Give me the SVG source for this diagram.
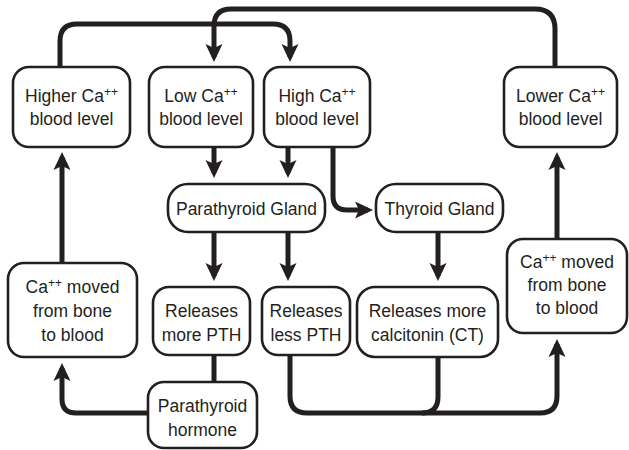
<svg xmlns="http://www.w3.org/2000/svg" width="629" height="450" viewBox="0 0 629 450">
<defs>
<style>
.box{fill:#fff;stroke:#231f20;stroke-width:2.6}
.c{fill:none;stroke:#231f20;stroke-width:5}
text{font-family:"Liberation Sans",Arial,sans-serif;font-size:17.5px;fill:#231f20;text-anchor:middle}
.sup{font-size:12px}
</style>
<marker id="ah" markerUnits="userSpaceOnUse" orient="auto" overflow="visible" markerWidth="1" markerHeight="1">
<path d="M5,0 L-13,-8.5 L-9,0 L-13,8.5 Z" fill="#231f20"/>
</marker>
</defs>
<rect width="629" height="450" fill="#fff"/>
<g id="connectors">
<path class="c" d="M60,67 V41 Q60,24 77,24 H273 Q290,24 290,41 V57" marker-end="url(#ah)"/>
<path class="c" d="M555,67 V29 Q555,9 535,9 H231 Q214,9 214,26 V57" marker-end="url(#ah)"/>
<path class="c" d="M214,147 V173" marker-end="url(#ah)"/>
<path class="c" d="M288,147 V173" marker-end="url(#ah)"/>
<path class="c" d="M333,147 V196 Q333,210 347,210 H368" marker-end="url(#ah)"/>
<path class="c" d="M214,232 V276" marker-end="url(#ah)"/>
<path class="c" d="M288,232 V276" marker-end="url(#ah)"/>
<path class="c" d="M438,232 V276" marker-end="url(#ah)"/>
<path class="c" d="M214,355 V382"/>
<path class="c" d="M148,413 H76 Q62,413 62,399 V368" marker-end="url(#ah)"/>
<path class="c" d="M62,263 V157" marker-end="url(#ah)"/>
<path class="c" d="M290,355 V396 Q290,413 307,413 H540 Q557,413 557,396 V344" marker-end="url(#ah)"/>
<path class="c" d="M438,357 V397 Q438,413 422,413"/>
<path class="c" d="M557,239 V157" marker-end="url(#ah)"/>
</g>
<g id="higher">
<rect class="box" x="13" y="67" width="117" height="80" rx="16"/>
<text x="71.5" y="102">Higher Ca<tspan class="sup" dy="-6">++</tspan></text>
<text x="71.5" y="125">blood level</text>
</g>
<g id="low">
<rect class="box" x="149" y="67" width="104" height="80" rx="16"/>
<text x="201" y="102">Low Ca<tspan class="sup" dy="-6">++</tspan></text>
<text x="201" y="125">blood level</text>
</g>
<g id="high">
<rect class="box" x="264" y="67" width="106" height="80" rx="16"/>
<text x="317" y="102">High Ca<tspan class="sup" dy="-6">++</tspan></text>
<text x="317" y="125">blood level</text>
</g>
<g id="lower">
<rect class="box" x="504" y="67" width="113" height="80" rx="16"/>
<text x="560.5" y="102">Lower Ca<tspan class="sup" dy="-6">++</tspan></text>
<text x="560.5" y="125">blood level</text>
</g>
<g id="parathyroid-gland">
<rect class="box" x="168" y="184" width="157" height="48" rx="20"/>
<text x="246.5" y="215">Parathyroid Gland</text>
</g>
<g id="thyroid-gland">
<rect class="box" x="376" y="184" width="127" height="48" rx="20"/>
<text x="439.5" y="215">Thyroid Gland</text>
</g>
<g id="ca-moved-left">
<rect class="box" x="8" y="263" width="129" height="94" rx="16"/>
<text x="72.5" y="293">Ca<tspan class="sup" dy="-6">++</tspan><tspan dy="6"> moved</tspan></text>
<text x="72.5" y="317">from bone</text>
<text x="72.5" y="341">to blood</text>
</g>
<g id="releases-more-pth">
<rect class="box" x="153" y="287" width="97" height="68" rx="16"/>
<text x="201.5" y="317">Releases</text>
<text x="201.5" y="341">more PTH</text>
</g>
<g id="releases-less-pth">
<rect class="box" x="262" y="287" width="88" height="68" rx="16"/>
<text x="306" y="317">Releases</text>
<text x="306" y="341">less PTH</text>
</g>
<g id="releases-calcitonin">
<rect class="box" x="357" y="287" width="141" height="70" rx="18"/>
<text x="427.5" y="317">Releases more</text>
<text x="427.5" y="341">calcitonin (CT)</text>
</g>
<g id="ca-moved-right">
<rect class="box" x="507" y="239" width="120" height="94" rx="16"/>
<text x="567" y="268">Ca<tspan class="sup" dy="-6">++</tspan><tspan dy="6"> moved</tspan></text>
<text x="567" y="291">from bone</text>
<text x="567" y="314">to blood</text>
</g>
<g id="parathyroid-hormone">
<rect class="box" x="148" y="382" width="109" height="66" rx="16"/>
<text x="202.5" y="412">Parathyroid</text>
<text x="202.5" y="436">hormone</text>
</g>
</svg>
